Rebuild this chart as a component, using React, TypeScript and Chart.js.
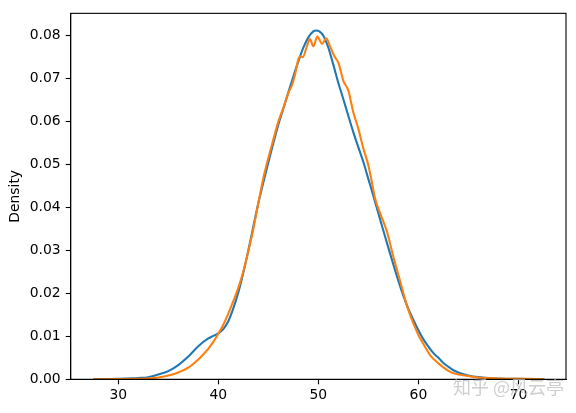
import React, { useEffect, useRef } from "react";
import { Chart, registerables } from "chart.js";

Chart.register(...registerables);

const blueX = [27.5, 29, 30, 31, 32, 33, 34, 35, 36, 37, 38, 39, 39.5, 40, 40.5, 41, 41.5, 42, 42.5, 43, 43.5, 44, 44.5, 45, 45.5, 46, 46.5, 47, 47.5, 48, 48.5, 49, 49.5, 49.8, 50.1, 50.5, 51, 51.5, 52, 52.5, 53, 53.5, 54, 54.5, 55, 55.5, 56, 56.5, 57, 57.5, 58, 58.5, 59, 59.5, 60, 60.5, 61, 61.5, 62, 62.5, 63, 63.5, 64, 65, 66, 67, 68, 70, 72.6];
const blueDensity = [0.00002, 0.00006, 0.0001, 0.0002, 0.0003, 0.0005, 0.0011, 0.0019, 0.0033, 0.0053, 0.0077, 0.0095, 0.0101, 0.0107, 0.0117, 0.0135, 0.0165, 0.0202, 0.0248, 0.03, 0.0355, 0.041, 0.0458, 0.0505, 0.055, 0.0593, 0.063, 0.0668, 0.0705, 0.074, 0.0772, 0.0796, 0.081, 0.0812, 0.081, 0.08, 0.0772, 0.0732, 0.069, 0.0652, 0.0613, 0.0575, 0.054, 0.0506, 0.0466, 0.0427, 0.0386, 0.0346, 0.0306, 0.0267, 0.0229, 0.0194, 0.0164, 0.0138, 0.0114, 0.0093, 0.0076, 0.0061, 0.005, 0.0038, 0.0029, 0.0021, 0.0016, 0.0009, 0.0005, 0.0003, 0.0002, 0.0001, 0.00002];

const orangeX = [27.5, 30, 32, 33, 34, 35, 36, 37, 38, 38.5, 39, 39.5, 40, 40.5, 41, 41.5, 42, 42.5, 43, 43.5, 44, 44.5, 45, 45.5, 46, 46.5, 46.85, 47.1, 47.35, 47.65, 48.0, 48.2, 48.45, 48.85, 49.17, 49.5, 49.9, 50.37, 50.8, 51.17, 51.6, 52.0, 52.5, 53.0, 53.5, 54.0, 54.5, 55.0, 55.34, 55.67, 56.2, 56.84, 57.5, 58.17, 58.8, 59.5, 60.0, 60.5, 61.2, 62.0, 62.84, 63.5, 64.84, 66, 68, 70, 72.5];
const orangeDensity = [0.00001, 0.00005, 0.0001, 0.0002, 0.0004, 0.0009, 0.0016, 0.0027, 0.0046, 0.0058, 0.0071, 0.0087, 0.0106, 0.0127, 0.0153, 0.0182, 0.0213, 0.0251, 0.0298, 0.035, 0.041, 0.0468, 0.0515, 0.0558, 0.06, 0.0632, 0.0656, 0.0672, 0.0684, 0.0708, 0.0745, 0.0752, 0.075, 0.0775, 0.0792, 0.0775, 0.0798, 0.0781, 0.0794, 0.0775, 0.0752, 0.0737, 0.0695, 0.0672, 0.0621, 0.0583, 0.0537, 0.0498, 0.046, 0.0421, 0.0385, 0.0345, 0.0285, 0.0229, 0.0175, 0.013, 0.0103, 0.0082, 0.0055, 0.0037, 0.0022, 0.0014, 0.0008, 0.0004, 0.0002, 0.0001, 0.00003];

const xTicks = [30, 40, 50, 60, 70];
const yTicks = [0, 0.01, 0.02, 0.03, 0.04, 0.05, 0.06, 0.07, 0.08];
const yLabel = "Density";
const watermark = "知乎 @风云亭";

const FONT = "'DejaVu Sans', sans-serif";
const FS = 13.9;

export default function App() {
  const ref = useRef<HTMLCanvasElement | null>(null);
  useEffect(() => {
    if (!ref.current) return;
    const framePlugin = {
      id: "frame",
      afterDraw(chart: any) {
        const { ctx, chartArea } = chart;
        ctx.save();
        ctx.strokeStyle = "#000";
        ctx.lineWidth = 1.1;
        ctx.strokeRect(chartArea.left, chartArea.top, chartArea.right - chartArea.left, chartArea.bottom - chartArea.top);
        ctx.font = "18px 'Noto Sans CJK SC'";
        ctx.fillStyle = "rgba(190,190,190,0.75)";
        ctx.textBaseline = "alphabetic";
        ctx.textAlign = "left";
        ctx.fillText(watermark, 453, 394);
        ctx.restore();
      },
    };
    const chart = new Chart(ref.current, {
      type: "line",
      data: {
        datasets: [
          {
            label: "a",
            data: blueX.map((x, i) => ({ x, y: blueDensity[i] })),
            borderColor: "#1f77b4",
            borderWidth: 2.08,
            pointRadius: 0,
            cubicInterpolationMode: "monotone",
            order: 1,
          },
          {
            label: "b",
            data: orangeX.map((x, i) => ({ x, y: orangeDensity[i] })),
            borderColor: "#ff7f0e",
            borderWidth: 2.08,
            pointRadius: 0,
            cubicInterpolationMode: "monotone",
            order: 0,
          },
        ],
      },
      options: {
        responsive: false,
        animation: false,
        layout: { padding: { left: 0, top: 10.3, right: 10, bottom: 0 } },
        plugins: { legend: { display: false }, tooltip: { enabled: false } },
        scales: {
          x: {
            type: "linear",
            min: 25.25,
            max: 74.75,
            afterFit: (s: any) => { s.height = 33.7; },
            afterBuildTicks: (s: any) => { s.ticks = xTicks.map((v) => ({ value: v })); },
            grid: { drawOnChartArea: false, drawTicks: true, tickLength: 5, color: "#000", tickWidth: 1.1 },
            border: { display: true, color: "#000", width: 1.1 },
            ticks: { color: "#000", font: { family: FONT, size: FS }, padding: 3, maxRotation: 0, includeBounds: false },
          },
          y: {
            type: "linear",
            min: 0,
            max: 0.0852,
            afterFit: (s: any) => { s.width = 70.7; },
            afterBuildTicks: (s: any) => { s.ticks = yTicks.map((v) => ({ value: v })); },
            grid: { drawOnChartArea: false, drawTicks: true, tickLength: 5, color: "#000", tickWidth: 1.1 },
            border: { display: true, color: "#000", width: 1.1 },
            ticks: {
              color: "#000",
              font: { family: FONT, size: FS },
              padding: 5,
              includeBounds: false,
              callback: (v: any) => Number(v).toFixed(2),
            },
            title: {
              display: true,
              text: yLabel,
              color: "#000",
              font: { family: FONT, size: FS },
              padding: { top: 6.7, bottom: 0 },
            },
          },
        },
      },
      plugins: [framePlugin],
    } as any);
    return () => chart.destroy();
  }, []);
  return (
    <div style={{ position: "fixed", left: 0, top: 0, width: 576, height: 413, background: "#fff" }}>
      <canvas ref={ref} width={576} height={413} style={{ width: 576, height: 413 }} />
    </div>
  );
}
